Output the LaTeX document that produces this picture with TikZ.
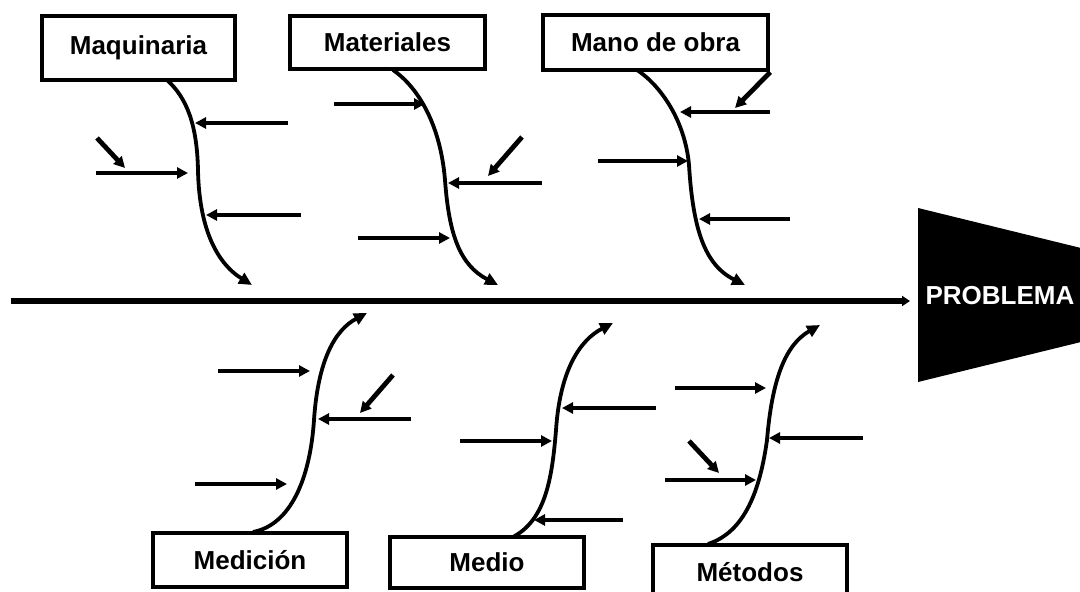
\documentclass[tikz,border=0pt]{standalone}
\usepackage{fontspec}
\setmainfont{Liberation Sans}
\usetikzlibrary{arrows.meta}
\begin{document}
\begin{tikzpicture}[x=0.5pt,y=-0.5pt,
  catbox/.style={draw, line width=2.2pt, inner sep=0pt, font=\fontsize{13}{15}\selectfont\bfseries},
  bone/.style={line width=1.9pt, -{Triangle[length=6.5pt,width=6pt]}},
  twig/.style={line width=2.4pt, -{Triangle[length=5.5pt,width=5.5pt]}},
  spine/.style={line width=2.8pt, -{Triangle[length=4pt,width=5pt]}},
  headfill/.style={fill=black}]
\clip (0,0) rectangle (1080,592);
\useasboundingbox (0,0) rectangle (1080,592);

% category boxes
\node[catbox, minimum width=96.5pt, minimum height=32pt] (maq) at (138.5,48) {Maquinaria};
\node[catbox, minimum width=97.5pt, minimum height=26.5pt] (mat) at (387.5,42.5) {Materiales};
\node[catbox, minimum width=112.5pt, minimum height=27.5pt] (mano) at (655.5,42.5) {Mano de obra};
\node[catbox, minimum width=97pt, minimum height=27pt] (med) at (250,560) {Medición};
\node[catbox, minimum width=97pt, minimum height=25.5pt] (medio) at (487,562.5) {Medio};
\node[catbox, minimum width=97pt, minimum height=27.5pt] (met) at (750,572.5) {Métodos};

% problem head
\fill[headfill] (918,208) -- (1085,249) -- (1085,341) -- (918,382) -- cycle;
\node[text=white, font=\fontsize{13}{15}\selectfont\bfseries] (prob) at (1000,296) {PROBLEMA};

% spine
\coordinate (s0) at (11,301);
\coordinate (s1) at (910,301);
\draw[spine] (s0) -- (s1);

% top bones
\coordinate (maqA) at (167,80);  \coordinate (maqB) at (252,285);
\draw[bone] (maqA) .. controls (187,98) and (197,125) .. (198,170) .. controls (199,225) and (215,262) .. (maqB);
\coordinate (matA) at (393,70);  \coordinate (matB) at (498,285);
\draw[bone] (matA) .. controls (415,85) and (440,120) .. (445,180) .. controls (449,235) and (460,265) .. (matB);
\coordinate (manA) at (637,70);  \coordinate (manB) at (745,285);
\draw[bone] (manA) .. controls (660,85) and (685,120) .. (689,165) .. controls (693,230) and (705,265) .. (manB);

% bottom bones
\coordinate (medA) at (253,532);  \coordinate (medB) at (367,313);
\draw[bone] (medA) .. controls (290,525) and (310,480) .. (314,420) .. controls (318,360) and (335,330) .. (medB);
\coordinate (mdoA) at (513,537);  \coordinate (mdoB) at (613,323);
\draw[bone] (mdoA) .. controls (545,520) and (552,480) .. (556,430) .. controls (560,370) and (580,340) .. (mdoB);
\coordinate (metA) at (708,544);  \coordinate (metB) at (820,325);
\draw[bone] (metA) .. controls (745,532) and (760,490) .. (767,440) .. controls (772,380) and (785,345) .. (metB);

% Maquinaria twigs
\coordinate (q1a) at (288,123); \coordinate (q1b) at (195,123);
\coordinate (q2a) at (96,173);  \coordinate (q2b) at (188,173);
\coordinate (q3a) at (97,138);  \coordinate (q3b) at (125,168);
\coordinate (q4a) at (301,215); \coordinate (q4b) at (206,215);
\draw[twig] (q1a) -- (q1b);
\draw[twig] (q2a) -- (q2b);
\draw[twig] (q3a) -- (q3b);
\draw[twig] (q4a) -- (q4b);

% Materiales twigs
\coordinate (t1a) at (334,104); \coordinate (t1b) at (425,104);
\coordinate (t2a) at (542,183); \coordinate (t2b) at (448,183);
\coordinate (t3a) at (522,137); \coordinate (t3b) at (488,176);
\coordinate (t4a) at (358,238); \coordinate (t4b) at (450,238);
\draw[twig] (t1a) -- (t1b);
\draw[twig] (t2a) -- (t2b);
\draw[twig] (t3a) -- (t3b);
\draw[twig] (t4a) -- (t4b);

% Mano de obra twigs
\coordinate (o1a) at (770,112); \coordinate (o1b) at (680,112);
\coordinate (o3b) at (735,108);
\coordinate (o2a) at (598,161); \coordinate (o2b) at (688,161);
\coordinate (o4a) at (790,219); \coordinate (o4b) at (699,219);
\draw[twig] (o1a) -- (o1b);
\draw[twig] (mano.south east) -- (o3b);
\draw[twig] (o2a) -- (o2b);
\draw[twig] (o4a) -- (o4b);

% Medicion twigs
\coordinate (d1a) at (218,371); \coordinate (d1b) at (310,371);
\coordinate (d2a) at (411,419); \coordinate (d2b) at (318,419);
\coordinate (d3a) at (393,375); \coordinate (d3b) at (360,413);
\coordinate (d4a) at (195,484); \coordinate (d4b) at (287,484);
\draw[twig] (d1a) -- (d1b);
\draw[twig] (d2a) -- (d2b);
\draw[twig] (d3a) -- (d3b);
\draw[twig] (d4a) -- (d4b);

% Medio twigs
\coordinate (e1a) at (656,408); \coordinate (e1b) at (562,408);
\coordinate (e2a) at (460,441); \coordinate (e2b) at (552,441);
\coordinate (e3a) at (623,520); \coordinate (e3b) at (534,520);
\draw[twig] (e1a) -- (e1b);
\draw[twig] (e2a) -- (e2b);
\draw[twig] (e3a) -- (e3b);

% Metodos twigs
\coordinate (m1a) at (675,388); \coordinate (m1b) at (766,388);
\coordinate (m2a) at (863,438); \coordinate (m2b) at (769,438);
\coordinate (m3a) at (689,441); \coordinate (m3b) at (719,473);
\coordinate (m4a) at (665,480); \coordinate (m4b) at (756,480);
\draw[twig] (m1a) -- (m1b);
\draw[twig] (m2a) -- (m2b);
\draw[twig] (m3a) -- (m3b);
\draw[twig] (m4a) -- (m4b);
\end{tikzpicture}
\end{document}
